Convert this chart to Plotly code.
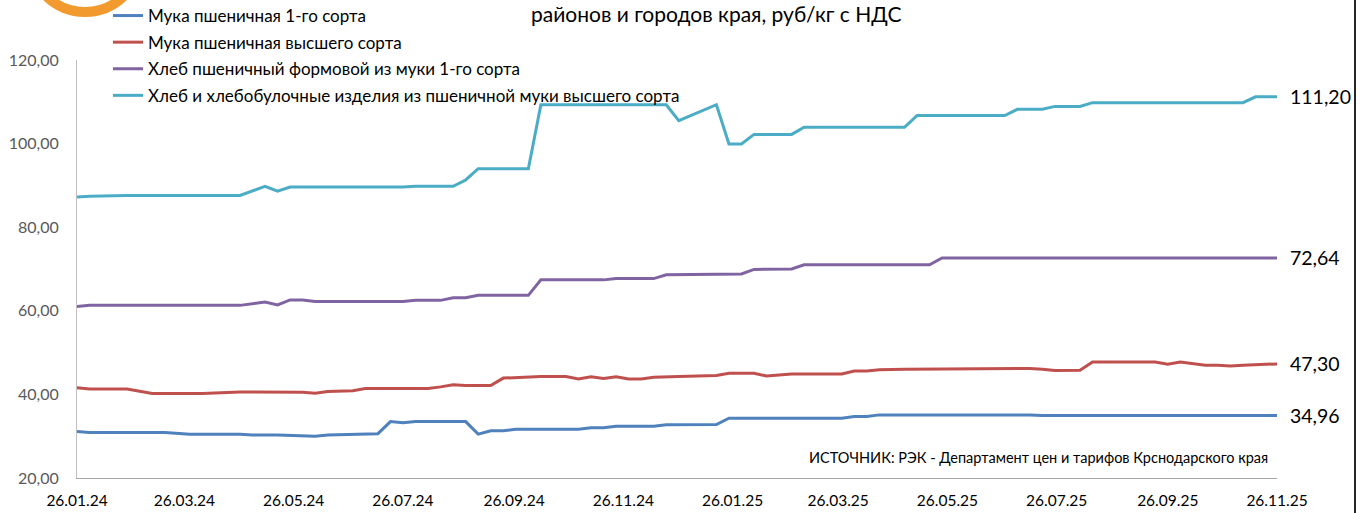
import plotly.graph_objects as go

# ---------------- data ----------------
series_names = [
    "Мука пшеничная 1-го сорта",
    "Мука пшеничная высшего сорта",
    "Хлеб пшеничный формовой из муки 1-го сорта",
    "Хлеб и хлебобулочные изделия из пшеничной муки высшего сорта",
]
colors = ["#4F81BD", "#C0504D", "#8064A2", "#4BACC6"]

flour1_dates = [
    "2024-01-26", "2024-02-02", "2024-03-15", "2024-03-22", "2024-03-29", "2024-04-26",
    "2024-05-03", "2024-05-17", "2024-05-24", "2024-05-31", "2024-06-07", "2024-06-14",
    "2024-06-28", "2024-07-05", "2024-07-12", "2024-07-19", "2024-07-26", "2024-08-02",
    "2024-08-30", "2024-09-06", "2024-09-13", "2024-09-20", "2024-09-27", "2024-11-01",
    "2024-11-08", "2024-11-15", "2024-11-22", "2024-12-13", "2024-12-20", "2025-01-17",
    "2025-01-24", "2025-03-28", "2025-04-04", "2025-04-11", "2025-04-18", "2025-07-11",
    "2025-07-18", "2025-11-26",
]
flour1_values = [
    31.1, 30.9, 30.9, 30.7, 30.45, 30.45,
    30.3, 30.3, 30.2, 30.2, 30.0, 30.3,
    30.4, 30.6, 30.6, 33.5, 33.25, 33.5,
    33.5, 30.5, 31.3, 31.3, 31.65, 31.65,
    32.0, 32.0, 32.4, 32.4, 32.75, 32.8,
    34.3, 34.3, 34.7, 34.7, 35.1, 35.1,
    34.96, 34.96,
]

flour_top_dates = [
    "2024-01-26", "2024-02-02", "2024-02-23", "2024-03-08", "2024-04-05", "2024-04-19",
    "2024-04-26", "2024-05-31", "2024-06-07", "2024-06-14", "2024-06-28", "2024-07-05",
    "2024-08-09", "2024-08-16", "2024-08-23", "2024-08-30", "2024-09-13", "2024-09-20",
    "2024-09-27", "2024-10-04", "2024-10-11", "2024-10-25", "2024-11-01", "2024-11-08",
    "2024-11-15", "2024-11-22", "2024-11-29", "2024-12-06", "2024-12-13", "2024-12-27",
    "2025-01-17", "2025-01-24", "2025-02-07", "2025-02-14", "2025-02-21", "2025-02-28",
    "2025-03-28", "2025-04-04", "2025-04-11", "2025-04-18", "2025-05-02", "2025-05-30",
    "2025-06-06", "2025-07-11", "2025-07-18", "2025-07-25", "2025-08-08", "2025-08-15",
    "2025-09-19", "2025-09-26", "2025-10-03", "2025-10-10", "2025-10-17", "2025-10-24",
    "2025-10-31", "2025-11-07", "2025-11-21", "2025-11-26",
]
flour_top_values = [
    41.6, 41.3, 41.3, 40.2, 40.2, 40.4,
    40.6, 40.5, 40.3, 40.7, 40.9, 41.4,
    41.4, 41.8, 42.3, 42.1, 42.1, 43.9,
    44.0, 44.1, 44.3, 44.3, 43.7, 44.2,
    43.8, 44.2, 43.7, 43.7, 44.1, 44.3,
    44.5, 45.05, 45.05, 44.4, 44.7, 44.9,
    44.9, 45.6, 45.6, 45.9, 46.0, 46.1,
    46.2, 46.2, 46.0, 45.7, 45.8, 47.75,
    47.75, 47.2, 47.75, 47.3, 47.0, 47.0,
    46.8, 47.0, 47.15, 47.30,
]

bread1_dates = [
    "2024-01-26", "2024-02-02", "2024-04-26", "2024-05-10", "2024-05-17", "2024-05-24",
    "2024-05-31", "2024-06-07", "2024-07-26", "2024-08-02", "2024-08-16", "2024-08-23",
    "2024-08-30", "2024-09-06", "2024-10-04", "2024-10-11", "2024-11-15", "2024-11-22",
    "2024-12-13", "2024-12-20", "2025-01-31", "2025-02-07", "2025-02-28", "2025-03-07",
    "2025-05-16", "2025-05-23", "2025-11-26",
]
bread1_values = [
    61.0, 61.3, 61.3, 62.1, 61.4, 62.6,
    62.6, 62.2, 62.2, 62.5, 62.5, 63.1,
    63.1, 63.7, 63.7, 67.4, 67.4, 67.7,
    67.7, 68.6, 68.8, 69.9, 70.0, 71.0,
    71.0, 72.64, 72.64,
]

bread_top_dates = [
    "2024-01-26", "2024-02-02", "2024-02-23", "2024-04-26", "2024-05-10", "2024-05-17",
    "2024-05-24", "2024-07-26", "2024-08-02", "2024-08-23", "2024-08-30", "2024-09-06",
    "2024-10-04", "2024-10-11", "2024-12-20", "2024-12-27", "2025-01-17", "2025-01-24",
    "2025-01-31", "2025-02-07", "2025-02-28", "2025-03-07", "2025-05-02", "2025-05-09",
    "2025-06-27", "2025-07-04", "2025-07-18", "2025-07-25", "2025-08-08", "2025-08-15",
    "2025-11-07", "2025-11-14", "2025-11-26",
]
bread_top_values = [
    87.2, 87.4, 87.6, 87.6, 89.8, 88.6,
    89.6, 89.6, 89.8, 89.8, 91.3, 94.0,
    94.0, 109.3, 109.3, 105.5, 109.3, 99.9,
    99.9, 102.2, 102.2, 103.9, 103.9, 106.7,
    106.7, 108.2, 108.2, 108.9, 108.9, 109.8,
    109.8, 111.2, 111.2,
]

tick_dates = [
    "2024-01-26", "2024-03-26", "2024-05-26", "2024-07-26", "2024-09-26", "2024-11-26",
    "2025-01-26", "2025-03-26", "2025-05-26", "2025-07-26", "2025-09-26", "2025-11-26",
]
tick_labels = [
    "26.01.24", "26.03.24", "26.05.24", "26.07.24", "26.09.24", "26.11.24",
    "26.01.25", "26.03.25", "26.05.25", "26.07.25", "26.09.25", "26.11.25",
]
y_ticks = [20, 40, 60, 80, 100, 120]

title_text = "районов и городов края, руб/кг с НДС"
source_text = "ИСТОЧНИК: РЭК - Департамент цен и тарифов Крснодарского края"

all_dates = [flour1_dates, flour_top_dates, bread1_dates, bread_top_dates]
all_values = [flour1_values, flour_top_values, bread1_values, bread_top_values]

# ---------------- figure ----------------
FONT = "Lato, 'Open Sans', sans-serif"
W, H = 1360, 513
L, R, T, B = 77, 83, 60, 35
PW, PH = W - L - R, H - T - B


def px_x(px):
    return (px - L) / PW


def px_y(py):
    return (H - B - py) / PH


fig = go.Figure()
for name, col, d, v in zip(series_names, colors, all_dates, all_values):
    fig.add_trace(go.Scatter(
        x=d, y=v, mode="lines", name=name,
        line=dict(color=col, width=3),
        legendgroup=name, hoverinfo="x+y",
    ))

annotations = []
for col, d, v in zip(colors, all_dates, all_values):
    annotations.append(dict(
        x=d[-1], y=v[-1], xref="x", yref="y",
        text=f"{v[-1]:.2f}".replace(".", ","),
        showarrow=False, xanchor="left", yanchor="middle", xshift=11,
        font=dict(family=FONT, size=19.5, color="#000000"),
    ))

annotations.append(dict(
    x=px_x(716), y=px_y(0), xref="paper", yref="paper",
    text=title_text, showarrow=False, xanchor="center", yanchor="top",
    borderpad=0,
    font=dict(family=FONT, size=21, color="#000000"),
))
annotations.append(dict(
    x=px_x(1270), y=px_y(457), xref="paper", yref="paper",
    text=source_text, showarrow=False, xanchor="right", yanchor="middle",
    font=dict(family=FONT, size=14.5, color="#000000"),
))

shapes = [
    # partially visible logo ring
    dict(type="circle", xref="paper", yref="paper",
         x0=px_x(85 - 55), x1=px_x(85 + 55), y0=px_y(-43 + 55), y1=px_y(-43 - 55),
         line=dict(color="#F39A2E", width=10), layer="above"),
    # right frame border
    dict(type="line", xref="paper", yref="paper",
         x0=px_x(1355), x1=px_x(1355), y0=px_y(H), y1=px_y(0),
         line=dict(color="#262626", width=2)),
]

fig.update_layout(
    width=W, height=H,
    margin=dict(l=L, r=R, t=T, b=B, pad=0, autoexpand=False),
    paper_bgcolor="white", plot_bgcolor="white",
    separators=", ",
    font=dict(family=FONT, size=14, color="#000000"),
    showlegend=True,
    legend=dict(
        xref="paper", yref="paper",
        x=px_x(108), y=px_y(-2), xanchor="left", yanchor="top",
        font=dict(family=FONT, size=17, color="#000000"),
        bgcolor="rgba(0,0,0,0)", tracegroupgap=1.5,
        itemwidth=30,
    ),
    annotations=annotations,
    shapes=shapes,
    xaxis=dict(
        type="date", range=[tick_dates[0], tick_dates[-1]],
        tickvals=tick_dates, ticktext=tick_labels,
        showgrid=False, zeroline=False, showline=True,
        linecolor="#A6A6A6", linewidth=1, ticks="",
        tickfont=dict(family=FONT, size=15.5, color="#000000"),
        ticklabelstandoff=8, automargin=False,
    ),
    yaxis=dict(
        range=[20, 120], tickvals=y_ticks, tickformat=".2f",
        showgrid=False, zeroline=False, showline=True,
        linecolor="#BFBFBF", linewidth=1, ticks="",
        tickfont=dict(family=FONT, size=16, color="#595959"),
        ticklabelstandoff=14, automargin=False,
    ),
)

fig.write_html(
    "out.html",
    config={"displayModeBar": False},
    post_script="document.body.style.margin='0px';document.body.style.overflow='hidden';",
)
